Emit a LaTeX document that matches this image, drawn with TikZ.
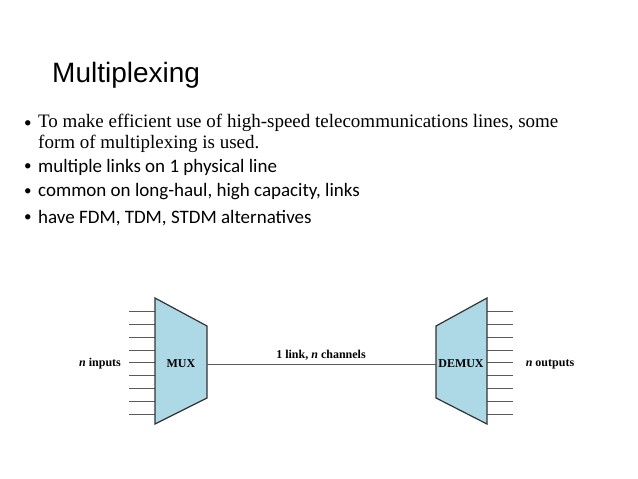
\documentclass[tikz,border=0pt]{standalone}
\usepackage{fontspec}
\setmainfont{Liberation Serif}
\newfontfamily\titlefont{Liberation Sans}
\newfontfamily\bodyfont{Carlito}
\usetikzlibrary{positioning}
\definecolor{muxBlue}{RGB}{173,216,230}
\definecolor{wireGray}{RGB}{90,90,90}

\begin{document}
\begin{tikzpicture}[x=1pt, y=-1pt]%
  \tikzset{bullet text/.style={anchor=west, inner sep=0pt, font=\fontsize{19}{21}\selectfont\bodyfont},
           dot/.style={anchor=west, inner sep=0pt, font=\fontsize{15}{18}\selectfont\bodyfont},
           wire/.style={draw=wireGray, line width=0.8pt},
           box/.style={draw=black!80, line width=1.2pt, fill=muxBlue, line join=miter},
           tag/.style={font=\fontsize{12}{14}\selectfont\bfseries, inner sep=0pt}}
  \useasboundingbox (0,0) rectangle (638,479);

  % slide text
  \node[anchor=west, inner sep=0pt, font=\fontsize{28}{32}\selectfont\titlefont] (title) at (52,75) {Multiplexing};
  \node[dot] (b1) at (24,124) {•};
  \node[bullet text, font=\fontsize{19}{21}\selectfont, align=left, anchor=north west] (t1) at (38,114)
    {To make efficient use of high-speed telecommunications lines, some\\form of multiplexing is used.};
  \node[dot] (b2) at (24,167) {•};
  \node[bullet text] (t2) at (38,167) {multiple links on 1 physical line};
  \node[dot] (b3) at (24,192) {•};
  \node[bullet text] (t3) at (38,192) {common on long-haul, high capacity, links};
  \node[dot] (b4) at (24,218) {•};
  \node[bullet text] (t4) at (38,218) {have FDM, TDM, STDM alternatives};

  % wires
  \foreach \i in {0,...,8} {
    \coordinate (in\i) at (129,{311.5+12.8*\i});
    \coordinate (out\i) at (513,{311.5+12.8*\i});
    \draw[wire] (in\i) -- ++(26,0);
    \draw[wire] (out\i) -- ++(-26,0);
  }

  % mux and demux
  \draw[box] (155,298) -- (207,326) -- (207,398) -- (155,424) -- cycle;
  \draw[box] (487,298) -- (436,326) -- (436,398) -- (487,424) -- cycle;
  \node[tag] (mux) at (181,364) {MUX};
  \node[tag] (demux) at (461,364) {DEMUX};
  \coordinate (muxR) at (207,364);
  \coordinate (demuxL) at (436,364);
  \draw[wire] (muxR) -- (demuxL);

  \node[tag] (link) at (321,355) {1 link, \textit{n} channels};
  \node[tag] (inputs) at (100,364) {\textit{n} inputs};
  \node[tag] (outputs) at (550,364) {\textit{n} outputs};
\end{tikzpicture}
\end{document}
